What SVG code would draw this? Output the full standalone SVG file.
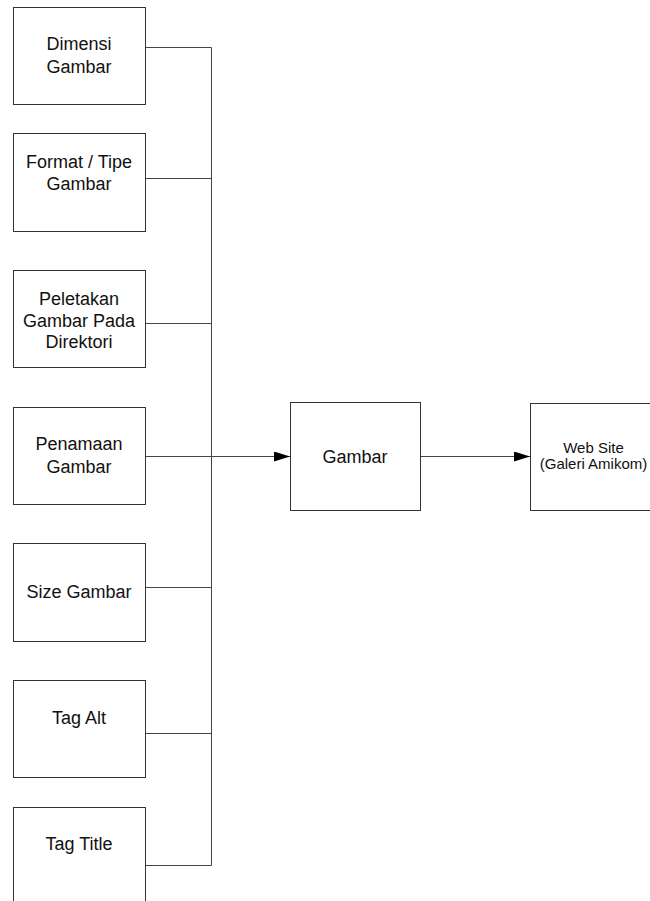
<svg xmlns="http://www.w3.org/2000/svg" width="650" height="901" viewBox="0 0 650 901">
<style>
.box{fill:#fff;stroke:#333;stroke-width:1}
.t{font-family:"Liberation Sans",Arial,sans-serif;font-size:18px;fill:#111;text-anchor:middle}
.ts{font-family:"Liberation Sans",Arial,sans-serif;font-size:15px;fill:#111;text-anchor:middle}
.c{fill:none;stroke:#444;stroke-width:1}
</style>
<defs>
<marker id="arr" markerWidth="16" markerHeight="10" refX="16" refY="5" orient="auto" markerUnits="userSpaceOnUse">
<path d="M0,0 L16,5 L0,10 Z" fill="#000"/>
</marker>
</defs>
<rect width="650" height="901" fill="#fff"/>
<g id="connectors">
<path class="c" d="M145,47.5 H211.5 V865.5 H145"/>
<path class="c" d="M145,178.5 H211.5"/>
<path class="c" d="M145,323.5 H211.5"/>
<path class="c" d="M145,587.5 H211.5"/>
<path class="c" d="M145,733.5 H211.5"/>
<path class="c" d="M145,456.5 H290" marker-end="url(#arr)"/>
<path class="c" d="M420,456.5 H530" marker-end="url(#arr)"/>
</g>
<g id="dimensi">
<rect class="box" x="13.5" y="7.5" width="132" height="97"/>
<text class="t" x="79" y="50">Dimensi</text>
<text class="t" x="79" y="72.5">Gambar</text>
</g>
<g id="format">
<rect class="box" x="13.5" y="133.5" width="132" height="98"/>
<text class="t" x="79" y="167.5">Format / Tipe</text>
<text class="t" x="79" y="189.5">Gambar</text>
</g>
<g id="peletakan">
<rect class="box" x="13.5" y="270.5" width="132" height="97"/>
<text class="t" x="79" y="305">Peletakan</text>
<text class="t" x="79" y="326.5">Gambar Pada</text>
<text class="t" x="79" y="348">Direktori</text>
</g>
<g id="penamaan">
<rect class="box" x="13.5" y="407.5" width="132" height="97"/>
<text class="t" x="79" y="450">Penamaan</text>
<text class="t" x="79" y="472.5">Gambar</text>
</g>
<g id="size">
<rect class="box" x="13.5" y="543.5" width="132" height="98"/>
<text class="t" x="79" y="598">Size Gambar</text>
</g>
<g id="tagalt">
<rect class="box" x="13.5" y="680.5" width="132" height="97"/>
<text class="t" x="79" y="724">Tag Alt</text>
</g>
<g id="tagtitle">
<rect class="box" x="13.5" y="807.5" width="132" height="100"/>
<text class="t" x="79" y="850">Tag Title</text>
</g>
<g id="gambar">
<rect class="box" x="290.5" y="402.5" width="130" height="108"/>
<text class="t" x="355" y="462.5">Gambar</text>
</g>
<g id="website">
<rect class="box" x="530.5" y="403.5" width="130" height="107"/>
<text class="ts" x="593.5" y="453">Web Site</text>
<text class="ts" x="593.5" y="468.5">(Galeri Amikom)</text>
</g>
</svg>
